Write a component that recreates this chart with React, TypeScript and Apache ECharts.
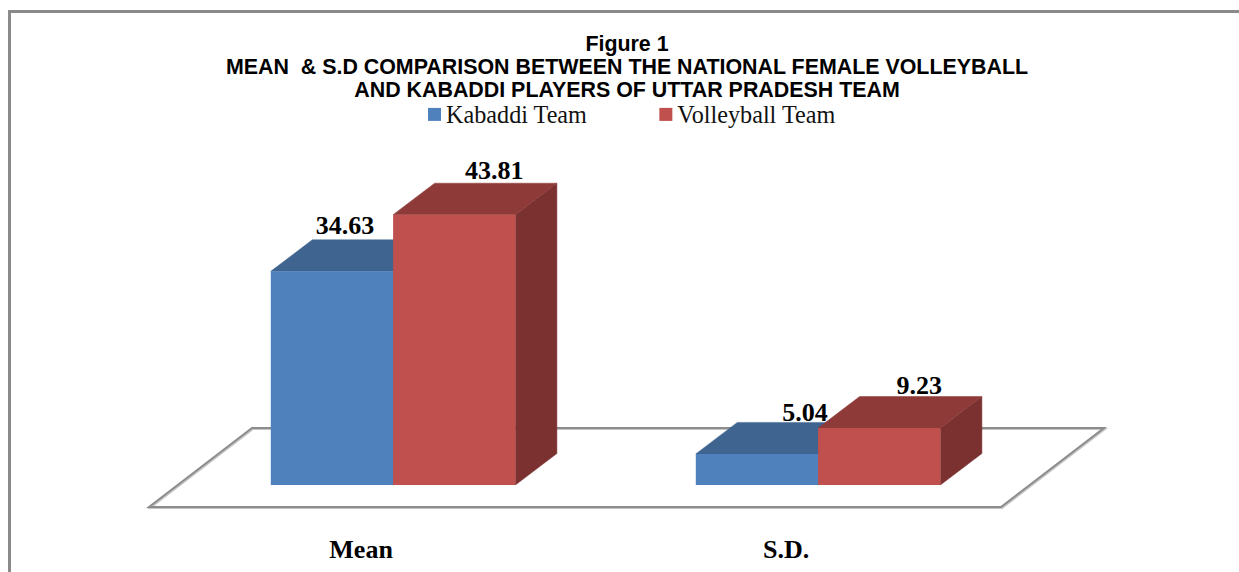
import React, { useEffect, useRef } from "react";
import * as echarts from "echarts";

const categories = ["Mean", "S.D."];
const kabaddiValues = [34.63, 5.04];
const volleyballValues = [43.81, 9.23];
const seriesNames = ["Kabaddi Team", "Volleyball Team"];
const titleLines = [
  "Figure 1",
  "MEAN  & S.D COMPARISON BETWEEN THE NATIONAL FEMALE VOLLEYBALL",
  "AND KABADDI PLAYERS OF UTTAR PRADESH TEAM",
];

const SERIF = '"Liberation Serif", "Times New Roman", serif';
const SANS = '"Liberation Sans", Arial, sans-serif';
const BAR_W = 122.3;
const DEPTH_X = 41.5;
const DEPTH_Y = 31.5;

const palette = [
  { front: "#4f81bd", top: "#3e648f", side: "#375a82" },
  { front: "#c0504d", top: "#8e3a38", side: "#7a3130" },
];
// manual data-label displacement from each bar's front-top-centre
const labelShift = [
  [
    [13, -46],
    [48, -41],
  ],
  [
    [40, -44],
    [40, -43],
  ],
];

function barRenderer(seriesIdx: number) {
  return (params: any, api: any) => {
    const idx = api.value(0);
    const val = api.value(1);
    const [cx, yTop] = api.coord([idx, val]);
    const [, yBase] = api.coord([idx, 0]);
    const x0 = cx + (seriesIdx === 0 ? -BAR_W : 0);
    const x1 = x0 + BAR_W;
    const c = palette[seriesIdx];
    const shift = labelShift[seriesIdx][idx];
    const poly = (points: number[][], fill: string) => ({
      type: "polygon",
      shape: { points },
      style: { fill, stroke: fill, lineWidth: 0.5 },
    });
    return {
      type: "group",
      children: [
        poly(
          [
            [x1, yTop],
            [x1 + DEPTH_X, yTop - DEPTH_Y],
            [x1 + DEPTH_X, yBase - DEPTH_Y],
            [x1, yBase],
          ],
          c.side
        ),
        poly(
          [
            [x0, yTop],
            [x0 + DEPTH_X, yTop - DEPTH_Y],
            [x1 + DEPTH_X, yTop - DEPTH_Y],
            [x1, yTop],
          ],
          c.top
        ),
        {
          type: "rect",
          shape: { x: x0, y: yTop, width: BAR_W, height: yBase - yTop },
          style: { fill: c.front },
        },
        {
          type: "text",
          z2: 50,
          style: {
            text: val.toFixed(2),
            x: (x0 + x1) / 2 + shift[0],
            y: yTop + shift[1],
            font: `bold 26px ${SERIF}`,
            fill: "#000000",
            align: "center",
            verticalAlign: "middle",
          },
        },
      ],
    };
  };
}

export default function App() {
  const ref = useRef<HTMLDivElement>(null);
  useEffect(() => {
    if (!ref.current) return;
    const chart = echarts.init(ref.current, undefined, { renderer: "svg" });
    chart.setOption({
      animation: false,
      backgroundColor: "#ffffff",
      title: {
        text: titleLines.join("\n"),
        left: 627,
        top: 33,
        textAlign: "center",
        padding: 0,
        textStyle: {
          fontFamily: SANS,
          fontWeight: "bold",
          fontSize: 21.4,
          lineHeight: 22.9,
          color: "#000000",
        },
      },
      legend: {
        left: 428,
        top: 102.4,
        padding: 0,
        itemWidth: 13,
        itemHeight: 13,
        itemGap: 72,
        icon: "rect",
        data: seriesNames,
        textStyle: {
          fontFamily: SERIF,
          fontSize: 24.2,
          color: "#111111",
          padding: [0, 0, 0, 0],
        },
      },
      grid: { left: 180.6, width: 850, top: 176.5, height: 308.5 },
      xAxis: {
        type: "category",
        data: categories,
        axisLine: { show: false },
        axisTick: { show: false },
        axisLabel: {
          margin: 51,
          padding: [0, 64, 0, 0],
          fontFamily: SERIF,
          fontWeight: "bold",
          fontSize: 26,
          color: "#000000",
        },
      },
      yAxis: {
        type: "value",
        min: 0,
        max: 50,
        show: false,
        splitLine: { show: false },
      },
      graphic: [
        {
          type: "rect",
          silent: true,
          z: 0,
          shape: { x: 9.5, y: 11.5, width: 1400, height: 800 },
          style: { fill: "none", stroke: "#8a8a8a", lineWidth: 3 },
        },
        {
          type: "polygon",
          silent: true,
          z: 0,
          shape: {
            points: [
              [150, 508],
              [253, 429],
              [1105, 429],
              [1002, 508],
            ],
          },
          style: { fill: "none", stroke: "#c4c4c4", lineWidth: 2 },
        },
        {
          type: "polygon",
          silent: true,
          z: 0,
          shape: {
            points: [
              [149, 507],
              [252, 428],
              [1104, 428],
              [1001, 507],
            ],
          },
          style: { fill: "none", stroke: "#8c8c8c", lineWidth: 2 },
        },
      ],
      series: [
        {
          type: "custom",
          name: seriesNames[0],
          z: 3,
          clip: false,
          itemStyle: { color: palette[0].front },
          renderItem: barRenderer(0),
          encode: { x: 0, y: 1 },
          data: kabaddiValues.map((v, i) => [i, v]),
        },
        {
          type: "custom",
          name: seriesNames[1],
          z: 3,
          clip: false,
          itemStyle: { color: palette[1].front },
          renderItem: barRenderer(1),
          encode: { x: 0, y: 1 },
          data: volleyballValues.map((v, i) => [i, v]),
        },
      ],
    });
    return () => chart.dispose();
  }, []);
  return (
    <div
      ref={ref}
      style={{ position: "fixed", left: 0, top: 0, width: 1239, height: 572, background: "#fff" }}
    />
  );
}
